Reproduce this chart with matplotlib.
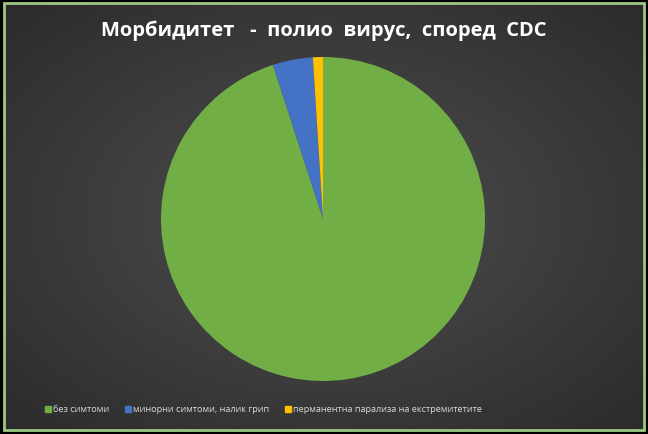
import numpy as np
import matplotlib
matplotlib.use("Agg")
import matplotlib.pyplot as plt
from matplotlib.patches import Rectangle

title = "Морбидитет   -  полио  вирус,  според  CDC"
labels = ["без симтоми", "минорни симтоми, налик грип", "перманентна парализа на екстремитетите"]
values = [95, 4, 1]
colors = ["#72ae46", "#4472c4", "#ffc000"]

W, H = 648, 435
fig = plt.figure(figsize=(W / 100, H / 100), dpi=100)
fig.patch.set_facecolor("black")

# background panel with radial gradient, inside the green frame
bg = fig.add_axes([5 / W, 5 / H, (W - 10) / W, (H - 10) / H])
yy, xx = np.mgrid[-1:1:200j, -1:1:300j]
rr = np.sqrt(xx ** 2 + yy ** 2) / np.sqrt(2)
shade = 0.31 - 0.14 * rr
img = np.dstack([shade, shade, shade])
bg.imshow(img, extent=[0, 1, 0, 1], aspect="auto", interpolation="bilinear")
bg.set_xlim(0, 1)
bg.set_ylim(0, 1)
bg.axis("off")
fig.patches.append(Rectangle((4 / W, 4 / H), (W - 8) / W, (H - 8) / H,
                             transform=fig.transFigure, fill=False,
                             edgecolor="#9cc883", linewidth=2))

# pie
R = 162
ax = fig.add_axes([(323 - R) / W, (H - 220 - R) / H, 2 * R / W, 2 * R / H])
ax.pie(values, colors=colors, startangle=90, counterclock=False,
       wedgeprops=dict(linewidth=0))
ax.set_xlim(-1, 1)
ax.set_ylim(-1, 1)
ax.axis("off")

fig.text(324 / W, 1 - 31 / H, title, ha="center", va="center",
         color="white", fontsize=14.5, fontweight="bold", family="Open Sans")

# legend
lx = [45, 125, 285]
for x, lab, c in zip(lx, labels, colors):
    fig.patches.append(Rectangle((x / W, (H - 413) / H), 6 / W, 6 / H,
                                 transform=fig.transFigure, color=c))
    fig.text((x + 8) / W, (H - 410) / H, lab, ha="left", va="center",
             color="#d9d9d9", fontsize=6.6, family="Open Sans")

fig.savefig("out.png", dpi=100, facecolor=fig.get_facecolor())
